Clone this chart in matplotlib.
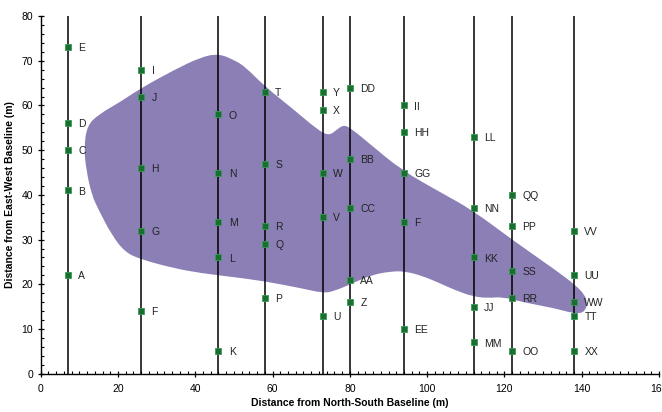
import matplotlib
matplotlib.use("Agg")
import matplotlib.pyplot as plt
from matplotlib.patches import PathPatch
from matplotlib.path import Path
from matplotlib.ticker import MultipleLocator

plt.rcParams['font.family'] = ['Liberation Sans', 'DejaVu Sans']

# Transect lines (distance from N-S baseline)
transects = [7, 26, 46, 58, 73, 80, 94, 112, 122, 138]

# Sample points: labels, x, y
labels = ["E", "D", "C", "B", "A",
          "I", "J", "H", "G", "F",
          "O", "N", "M", "L", "K",
          "T", "S", "R", "Q", "P",
          "Y", "X", "W", "V", "U",
          "DD", "BB", "CC", "AA", "Z",
          "II", "HH", "GG", "F", "EE",
          "LL", "NN", "KK", "JJ", "MM",
          "QQ", "PP", "SS", "RR", "OO",
          "VV", "UU", "WW", "TT", "XX"]
xs = [7, 7, 7, 7, 7,
      26, 26, 26, 26, 26,
      46, 46, 46, 46, 46,
      58, 58, 58, 58, 58,
      73, 73, 73, 73, 73,
      80, 80, 80, 80, 80,
      94, 94, 94, 94, 94,
      112, 112, 112, 112, 112,
      122, 122, 122, 122, 122,
      138, 138, 138, 138, 138]
ys = [73, 56, 50, 41, 22,
      68, 62, 46, 32, 14,
      58, 45, 34, 26, 5,
      63, 47, 33, 29, 17,
      63, 59, 45, 35, 13,
      64, 48, 37, 21, 16,
      60, 54, 45, 34, 10,
      53, 37, 26, 15, 7,
      40, 33, 23, 17, 5,
      32, 22, 16, 13, 5]

# Outline of the shaded region (data coordinates, used as curve control points)
region_x = [11.8, 11.2, 12.0, 15.0, 20.6, 25.8, 34.4, 41.4, 46.0, 50.0, 53.0,
            57.8, 65.6, 71.3, 74.5, 76.5, 78.4, 80.4, 84.9, 93.4, 103.8, 111.7,
            122.1, 133.2, 138.4, 140.8, 141.4, 141.0, 139.5, 136.4, 133.2, 124.7,
            119.5, 115.6, 111.7, 107.2, 103.1, 98.7, 94.2, 90.8, 85.6, 80.4,
            76.0, 73.2, 67.5, 57.8, 50.0, 41.4, 34.4, 25.8, 21.8, 18.4, 15.0, 13.2]
region_y = [45.5, 50.5, 55.5, 58.0, 60.8, 63.8, 67.9, 70.8, 71.6, 70.2, 68.6,
            64.4, 59.0, 54.8, 53.2, 54.5, 55.7, 54.8, 51.6, 45.5, 40.4, 36.6,
            29.9, 23.2, 19.8, 17.6, 16.0, 14.2, 13.4, 13.8, 14.6, 16.0,
            17.2, 16.9, 17.3, 18.7, 20.3, 21.9, 22.9, 22.9, 22.1, 20.1,
            18.5, 18.0, 19.1, 20.7, 21.6, 22.5, 23.6, 25.6, 27.2, 31.0, 36.6, 40.0]

fig = plt.figure(figsize=(6.62, 4.12), dpi=100)
ax = fig.add_axes([0.0615, 0.093, 0.934, 0.868])

# smooth closed outline: quadratic B-spline through midpoints
pts = list(zip(region_x, region_y))
n = len(pts)
mid = lambda a, b: ((a[0] + b[0]) / 2.0, (a[1] + b[1]) / 2.0)
verts = [mid(pts[0], pts[1])]
codes = [Path.MOVETO]
for i in range(1, n + 1):
    p = pts[i % n]
    q = pts[(i + 1) % n]
    verts += [p, mid(p, q)]
    codes += [Path.CURVE3, Path.CURVE3]
verts.append(verts[0])
codes.append(Path.CLOSEPOLY)
ax.add_patch(PathPatch(Path(verts, codes), facecolor='#8b7fb5',
                       edgecolor='none', zorder=1))

for t in transects:
    ax.plot([t, t], [0, 80], color='black', lw=1.1, zorder=2,
            solid_capstyle='butt')

ax.plot(xs, ys, linestyle='none', marker='s', markersize=4.3,
        markerfacecolor='#1a6e32', markeredgecolor='#3a9a55',
        markeredgewidth=0.6, zorder=3)

for lab, x, y in zip(labels, xs, ys):
    ax.annotate(lab, (x, y), xytext=(7.5, -0.8), textcoords='offset points',
                ha='left', va='center', fontsize=7.5, color='#222222', zorder=4)

ax.set_xlim(0, 160)
ax.set_ylim(0, 80)
ax.xaxis.set_major_locator(MultipleLocator(20))
ax.xaxis.set_minor_locator(MultipleLocator(2))
ax.yaxis.set_major_locator(MultipleLocator(10))
ax.yaxis.set_minor_locator(MultipleLocator(2))
ax.tick_params(which='major', direction='inout', length=5, width=0.9,
               labelsize=7.5, colors='black', pad=3)
ax.tick_params(which='minor', direction='in', length=2.5, width=0.8)
ax.tick_params(axis='x', which='major', pad=5)

for s in ['top', 'right']:
    ax.spines[s].set_visible(False)
for s in ['left', 'bottom']:
    ax.spines[s].set_linewidth(1.0)

ax.set_xlabel('Distance from North-South Baseline (m)', fontsize=7.5,
              fontweight='bold', labelpad=3)
ax.set_ylabel('Distance from East-West Baseline (m)', fontsize=7.5,
              fontweight='bold', labelpad=5)

fig.savefig('out.png', dpi=100)
